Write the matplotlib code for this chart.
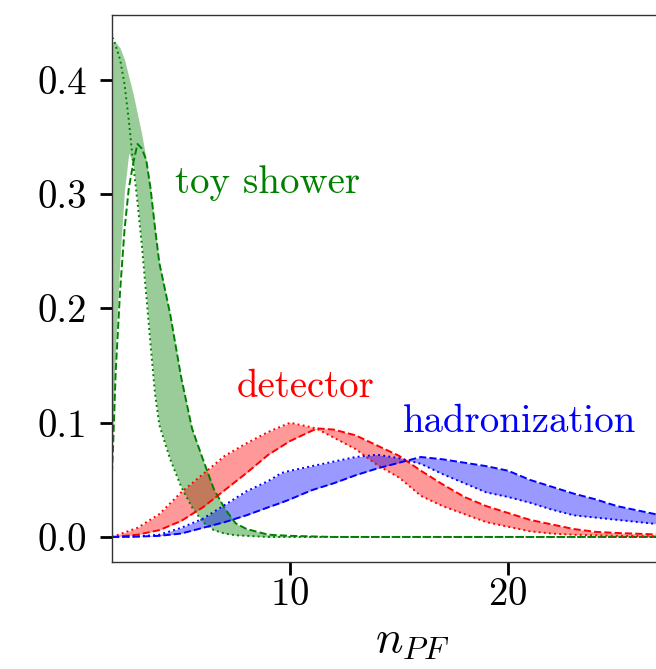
import numpy as np
import matplotlib
matplotlib.use("Agg")
import matplotlib.pyplot as plt

plt.rcParams.update({
    "font.family": "serif",
    "font.serif": ["cmr10"],
    "mathtext.fontset": "cm",
    "axes.formatter.use_mathtext": True,
    "font.size": 28,
})

# --- toy shower (green) ---
green_x = [1.83, 1.9, 2.0, 2.2, 2.4, 2.6, 2.8, 3.0, 3.2, 3.4, 3.6, 3.8, 4.0, 4.5,
           5.0, 5.5, 6.0, 6.5, 7.0, 7.5, 8.0, 9.0, 10.0, 12.0, 15.0, 20.0, 25.0, 30.0]
green_dotted = [0.437, 0.436, 0.430, 0.418, 0.397, 0.365, 0.327, 0.293, 0.255, 0.212,
                0.168, 0.126, 0.098, 0.068, 0.044, 0.026, 0.013, 0.006, 0.003, 0.0015,
                0.001, 0.0, 0.0, 0.0, 0.0, 0.0, 0.0, 0.0]
green_dashed = [0.056, 0.090, 0.145, 0.215, 0.268, 0.305, 0.327, 0.344, 0.340, 0.330,
                0.305, 0.271, 0.240, 0.195, 0.140, 0.095, 0.068, 0.042, 0.025, 0.012,
                0.007, 0.002, 0.001, 0.0, 0.0, 0.0, 0.0, 0.0]
# band envelope around the peak (first ten grid points)
green_band_hi = [0.433, 0.433, 0.433, 0.428, 0.418, 0.403, 0.388, 0.370, 0.352, 0.330]
green_band_lo = [0.056, 0.115, 0.170, 0.245, 0.303, 0.336, 0.327, 0.293, 0.255, 0.212]

# --- detector (red) ---
red_x = [1.83, 3, 4, 5, 6, 7, 8, 9, 10, 11, 11.3, 12, 13, 14, 15, 16, 17, 18, 19, 20,
         21, 22, 23, 24, 25, 26, 27, 28, 30]
red_dotted = [0.0, 0.008, 0.020, 0.039, 0.055, 0.071, 0.082, 0.092, 0.100, 0.096,
              0.094, 0.087, 0.077, 0.063, 0.052, 0.036, 0.027, 0.020, 0.013, 0.009,
              0.005, 0.003, 0.002, 0.0015, 0.001, 0.0008, 0.0005, 0.0003, 0.0002]
red_dashed = [0.0, 0.002, 0.006, 0.014, 0.026, 0.041, 0.056, 0.072, 0.084, 0.093,
              0.095, 0.094, 0.089, 0.080, 0.071, 0.058, 0.046, 0.035, 0.027, 0.021,
              0.015, 0.011, 0.007, 0.0045, 0.0035, 0.0028, 0.002, 0.0015, 0.001]

# --- hadronization (blue) ---
blue_x = [1.83, 3, 4, 5, 6, 7, 8, 9, 9.6, 10, 11, 12, 13, 14, 15, 16, 17, 18, 19, 20,
          21, 22, 23, 24, 25, 26, 27, 28, 30]
blue_dotted = [0.0, 0.0005, 0.002, 0.008, 0.016, 0.028, 0.040, 0.049, 0.056, 0.058,
               0.062, 0.066, 0.070, 0.072, 0.069, 0.064, 0.055, 0.047, 0.039, 0.035,
               0.030, 0.024, 0.019, 0.017, 0.015, 0.013, 0.011, 0.009, 0.007]
blue_dashed = [0.0, 0.0003, 0.001, 0.003, 0.008, 0.013, 0.019, 0.026, 0.030, 0.033,
               0.041, 0.047, 0.054, 0.060, 0.065, 0.070, 0.068, 0.065, 0.062, 0.058,
               0.050, 0.044, 0.038, 0.033, 0.027, 0.023, 0.019, 0.016, 0.012]

labels = ["toy shower", "detector", "hadronization"]
label_pos = [(4.72, 0.31), (7.57, 0.131), (15.18, 0.1007)]
colors = ["green", "red", "blue"]

x_ticks = [10, 20]
y_ticks = [0.0, 0.1, 0.2, 0.3, 0.4]
y_tick_labels = ["0.0", "0.1", "0.2", "0.3", "0.4"]

W, H = 656, 669
fig = plt.figure(figsize=(W / 100, H / 100), dpi=100)

xmin, xmax = 1.83, 29.4
ymin, ymax = -0.0219, 0.4569
px_per_unit = 21.8
left_px, top_px, bottom_px = 112, 15, 562
ax_w = (xmax - xmin) * px_per_unit / W
ax = fig.add_axes([left_px / W, 1 - bottom_px / H, ax_w, (bottom_px - top_px) / H])

alpha = 0.4
lw = 1.4

# green band: envelope near the peak, then between the two curves
gx = np.array(green_x)
gdot = np.array(green_dotted)
gdash = np.array(green_dashed)
n_env = len(green_band_hi)
g_lo = np.concatenate([green_band_lo, np.minimum(gdot, gdash)[n_env:]])
g_hi = np.concatenate([green_band_hi, np.maximum(gdot, gdash)[n_env:]])
ax.fill_between(gx, g_lo, g_hi, color="green", alpha=alpha, linewidth=0)
ax.fill_between(red_x, red_dotted, red_dashed, color="red", alpha=alpha, linewidth=0)
ax.fill_between(blue_x, blue_dotted, blue_dashed, color="blue", alpha=alpha, linewidth=0)

for xs, dot, dash, c in [(green_x, green_dotted, green_dashed, "green"),
                         (red_x, red_dotted, red_dashed, "red"),
                         (blue_x, blue_dotted, blue_dashed, "blue")]:
    ax.plot(xs, dot, ":", color=c, lw=lw)
    ax.plot(xs, dash, "--", color=c, lw=lw)

for text, (tx, ty), c in zip(labels, label_pos, colors):
    ax.text(tx, ty, text, color=c, ha="left", va="center", fontsize=28)

ax.set_xlim(xmin, xmax)
ax.set_ylim(ymin, ymax)
ax.set_xticks(x_ticks)
ax.set_yticks(y_ticks)
ax.set_yticklabels(y_tick_labels)
ax.tick_params(direction="out", length=9, width=2, color="black", labelsize=28)
ax.tick_params(axis="x", pad=2)
ax.tick_params(axis="y", pad=9)
for s in ax.spines.values():
    s.set_color("#333333")
    s.set_linewidth(1.0)
ax.set_xlabel(r"$n_{PF}$", fontsize=33, labelpad=5)

fig.savefig("out.png", dpi=100)
